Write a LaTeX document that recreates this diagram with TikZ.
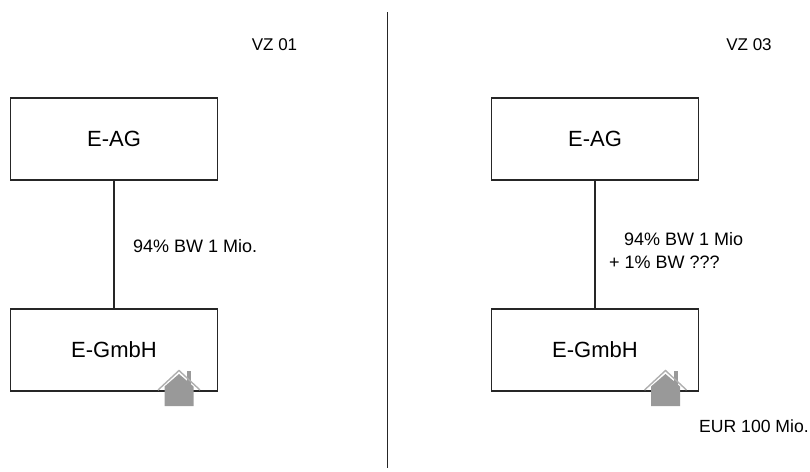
\documentclass[tikz,border=0pt]{standalone}
\usepackage{fontspec}
\setmainfont{Liberation Sans}
\usetikzlibrary{positioning}
\definecolor{HouseGray}{RGB}{153, 153, 153}
\definecolor{RoofGray}{RGB}{175, 175, 175}
\tikzset{
  entitybox/.style={draw=black!85, line width=1.4pt, minimum width=207pt, minimum height=82pt, inner sep=0pt, font=\fontsize{22}{26}\selectfont},
  smalllabel/.style={inner sep=0pt, align=left, font=\fontsize{18}{23}\selectfont},
  zonelabel/.style={inner sep=0pt, font=\fontsize{17}{20}\selectfont},
  link/.style={black!85, line width=1.4pt},
  house/.pic={
    \fill[HouseGray] (8,-19) rectangle (12,-5);
    \draw[RoofGray, line width=1.4pt] (-21,0) -- (0,-19.5) -- (21,0);
    \fill[HouseGray] (-14.5,-3.5) -- (0,-16) -- (14.5,-3.5) -- (14.5,16) -- (-14.5,16) -- cycle;
  }
}
\begin{document}
\begin{tikzpicture}[x=1pt, y=-1pt]
  \useasboundingbox (0,0) rectangle (810,471);

  % Divider
  \coordinate (divtop) at (387.5,12);
  \coordinate (divbot) at (387.5,468);
  \draw[link] (divtop) -- (divbot);

  % VZ 01
  \node[entitybox] (ag1) at (114,139) {E-AG};
  \node[entitybox] (gmbh1) at (114,350) {E-GmbH};
  \draw[link] (ag1) -- (gmbh1);
  \pic at (179,390) {house};
  \node[zonelabel] (vz1) at (274.5,45) {VZ 01};
  \node[smalllabel, anchor=west] (share1) at (133,246) {94\% BW 1 Mio.};

  % VZ 03
  \node[entitybox] (ag3) at (595,139) {E-AG};
  \node[entitybox] (gmbh3) at (595,350) {E-GmbH};
  \draw[link] (ag3) -- (gmbh3);
  \pic at (665.5,390) {house};
  \node[zonelabel] (vz3) at (749,45) {VZ 03};
  \node[smalllabel, anchor=west] (share3) at (609,250.5) {\hspace*{15pt}94\% BW 1 Mio\\+ 1\% BW ???};
  \node[zonelabel, font=\fontsize{17.6}{20}\selectfont, anchor=west] (eur) at (699,426) {EUR 100 Mio.};
\end{tikzpicture}
\end{document}
